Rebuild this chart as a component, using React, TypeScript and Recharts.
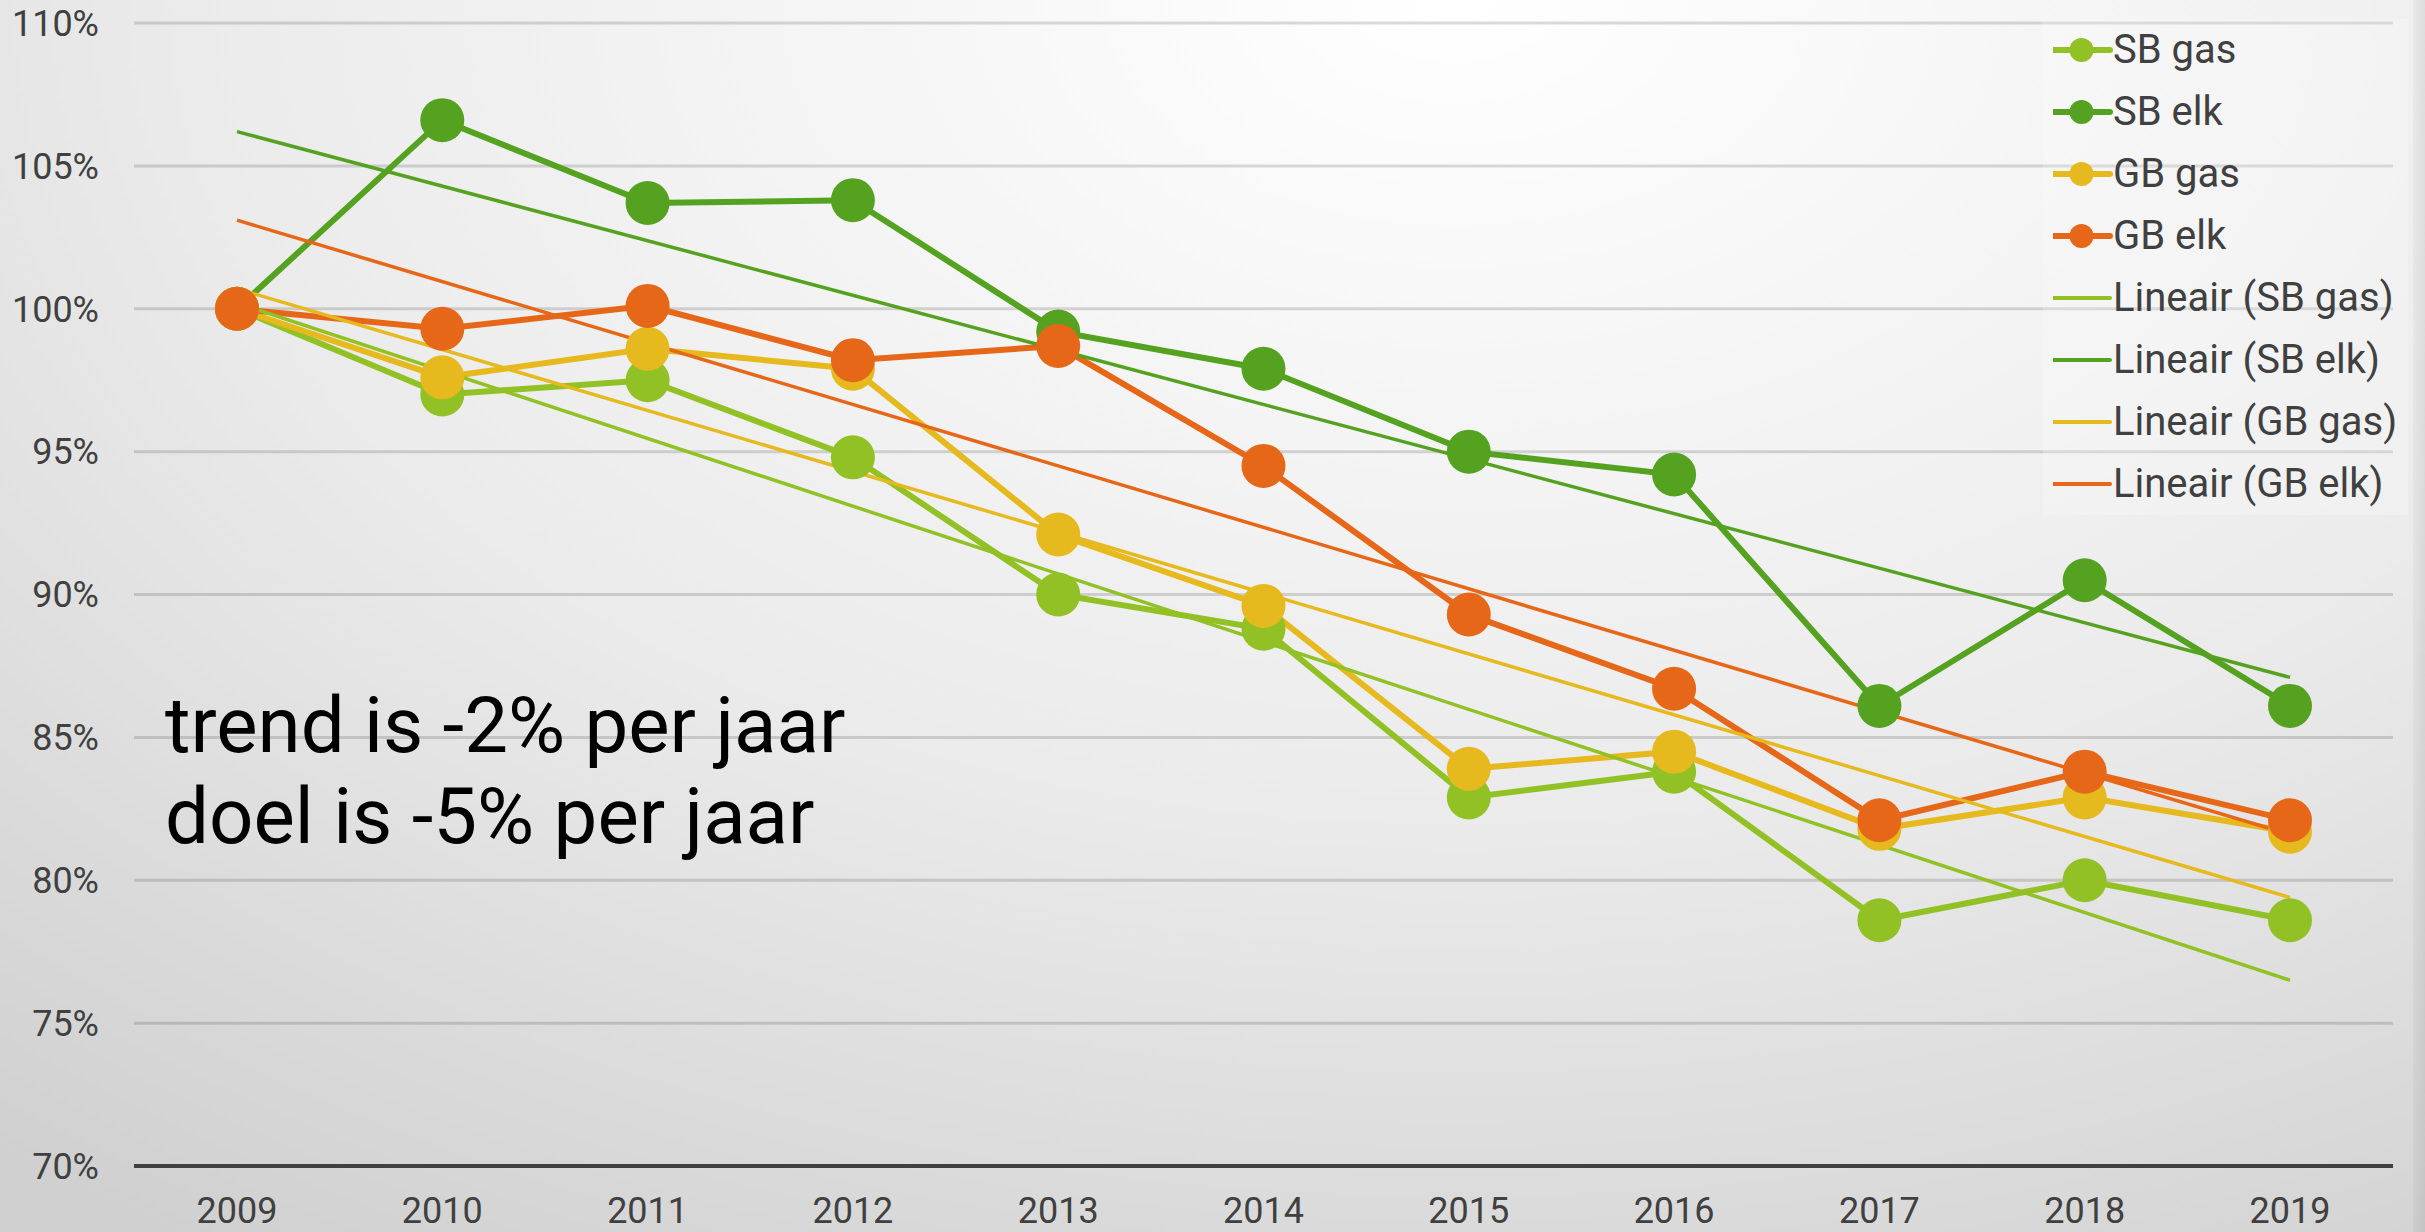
import React from 'react'
import {
  LineChart, Line, XAxis, YAxis, CartesianGrid, Legend
} from 'recharts'

const YEARS = ['2009', '2010', '2011', '2012', '2013', '2014', '2015', '2016', '2017', '2018', '2019']

const SB_GAS = [100, 97.0, 97.5, 94.8, 90.0, 88.8, 82.9, 83.8, 78.6, 80.0, 78.6]
const SB_ELK = [100, 106.6, 103.7, 103.8, 99.2, 97.9, 95.0, 94.2, 86.1, 90.5, 86.1]
const GB_GAS = [100, 97.6, 98.6, 97.9, 92.1, 89.6, 83.9, 84.5, 81.8, 82.9, 81.7]
const GB_ELK = [100, 99.3, 100.1, 98.2, 98.7, 94.5, 89.3, 86.7, 82.1, 83.8, 82.1]

// trendlines: only the end points, the line joins them
const TREND_SB_GAS = [100.2, null, null, null, null, null, null, null, null, null, 76.5]
const TREND_SB_ELK = [106.2, null, null, null, null, null, null, null, null, null, 87.1]
const TREND_GB_GAS = [100.7, null, null, null, null, null, null, null, null, null, 79.4]
const TREND_GB_ELK = [103.1, null, null, null, null, null, null, null, null, null, 81.6]

const Y_TICKS = [70, 75, 80, 85, 90, 95, 100, 105, 110]

const NOTES = ['trend is -2% per jaar', 'doel is -5% per jaar']

const COLORS = {
  sbGas: '#92C125',
  sbElk: '#55A220',
  gbGas: '#E6B91E',
  gbElk: '#E76718',
}

const SERIES = [
  { key: 'sbGas', name: 'SB gas', color: COLORS.sbGas, trend: false },
  { key: 'sbElk', name: 'SB elk', color: COLORS.sbElk, trend: false },
  { key: 'gbGas', name: 'GB gas', color: COLORS.gbGas, trend: false },
  { key: 'gbElk', name: 'GB elk', color: COLORS.gbElk, trend: false },
  { key: 'tSbGas', name: 'Lineair (SB gas)', color: COLORS.sbGas, trend: true },
  { key: 'tSbElk', name: 'Lineair (SB elk)', color: COLORS.sbElk, trend: true },
  { key: 'tGbGas', name: 'Lineair (GB gas)', color: COLORS.gbGas, trend: true },
  { key: 'tGbElk', name: 'Lineair (GB elk)', color: COLORS.gbElk, trend: true },
]

const data = YEARS.map((year, i) => ({
  year,
  sbGas: SB_GAS[i],
  sbElk: SB_ELK[i],
  gbGas: GB_GAS[i],
  gbElk: GB_ELK[i],
  tSbGas: TREND_SB_GAS[i],
  tSbElk: TREND_SB_ELK[i],
  tGbGas: TREND_GB_GAS[i],
  tGbElk: TREND_GB_ELK[i],
}))

const FONT = 'Roboto, "Noto Sans", sans-serif'

function renderLegend() {
  return (
    <div style={{ background: 'rgba(255,255,255,0.22)', padding: '0 0 0 10px', fontFamily: FONT }}>
      {SERIES.map(s => (
        <div key={s.key} style={{ height: 62, display: 'flex', alignItems: 'center' }}>
          <svg width={60} height={30} style={{ flex: 'none' }}>
            <line x1={0} y1={15} x2={57} y2={15} stroke={s.color} strokeWidth={s.trend ? 4 : 6} strokeLinecap="round" />
            {!s.trend && <circle cx={28.5} cy={15} r={12} fill={s.color} />}
          </svg>
          <span style={{ fontSize: 40, color: '#404040', lineHeight: '62px', whiteSpace: 'nowrap' }}>{s.name}</span>
        </div>
      ))}
    </div>
  )
}

export default function App() {
  return (
    <div
      style={{
        position: 'absolute', left: 0, top: 0, width: 2425, height: 1232, overflow: 'hidden',
        background: 'radial-gradient(ellipse 95% 120% at 60% 0%, #ffffff 0%, #ebebeb 55%, #d0d0d0 100%)',
        fontFamily: FONT,
      }}
    >
      <LineChart width={2425} height={1232} data={data} margin={{ top: 23, right: 32, left: 0, bottom: 0 }}>
        <CartesianGrid vertical={false} stroke="rgba(0,0,0,0.14)" strokeWidth={3} />
        <XAxis
          dataKey="year"
          height={66}
          padding={{ left: 103, right: 103 }}
          axisLine={{ stroke: '#404040', strokeWidth: 4 }}
          tickLine={false}
          tickSize={0}
          tickMargin={31}
          tick={{ fontSize: 36, fill: '#404040', fontFamily: FONT }}
        />
        <YAxis
          width={134}
          domain={[70, 110]}
          ticks={Y_TICKS}
          interval={0}
          axisLine={false}
          tickLine={false}
          tickSize={0}
          tickMargin={35}
          tickFormatter={(v: number) => `${v}%`}
          tick={{ fontSize: 36, fill: '#404040', fontFamily: FONT }}
        />
        <Legend
          layout="horizontal"
          verticalAlign="middle"
          align="center"
          content={renderLegend}
          wrapperStyle={{ left: 2043, top: 19, width: 365 }}
        />
        {SERIES.filter(s => !s.trend).map(s => (
          <Line
            key={s.key}
            dataKey={s.key}
            name={s.name}
            stroke={s.color}
            strokeWidth={6}
            dot={{ r: 22, fill: s.color, stroke: 'none' }}
            activeDot={false}
            isAnimationActive={false}
          />
        ))}
        {SERIES.filter(s => s.trend).map(s => (
          <Line
            key={s.key}
            dataKey={s.key}
            name={s.name}
            stroke={s.color}
            strokeWidth={3.5}
            dot={false}
            activeDot={false}
            connectNulls
            isAnimationActive={false}
          />
        ))}
      </LineChart>
      <div style={{ position: 'absolute', left: 165, top: 680, fontSize: 78, lineHeight: '91px', color: '#000' }}>
        {NOTES.map(n => <div key={n}>{n}</div>)}
      </div>
      <div style={{ position: 'absolute', right: 0, top: 0, width: 12, height: 1232, background: 'linear-gradient(to right, rgba(0,0,0,0.03), rgba(0,0,0,0.08))' }} />
    </div>
  )
}
